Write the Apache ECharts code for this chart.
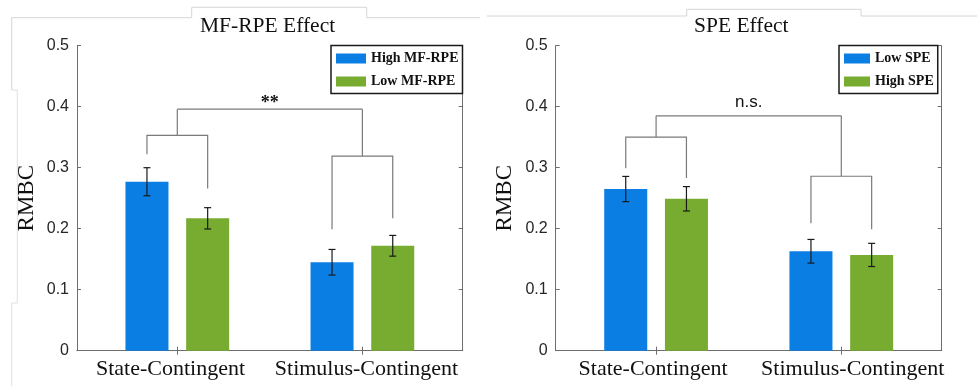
<!DOCTYPE html>
<html>
<head>
<meta charset="utf-8">
<script src="https://cdn.jsdelivr.net/npm/echarts@6/dist/echarts.min.js"></script>
<style>
  html, body { margin: 0; padding: 0; background: #fff; }
  #chart { width: 977px; height: 386px; }
</style>
</head>
<body>
<div id="chart"></div>
<script>
// ---- data ----
const categories = ['State-Contingent', 'Stimulus-Contingent'];
const yTicks = [0, 0.1, 0.2, 0.3, 0.4, 0.5];

// MF-RPE effect panel
const mfHigh = [0.277, 0.145];
const mfHighErr = [0.023, 0.021];
const mfLow = [0.217, 0.172];
const mfLowErr = [0.0175, 0.017];
// significance bracket: leg bottoms (high, low) per category, pair crossbars, top crossbar
const mfLegBottoms = [[0.322, 0.266], [0.199, 0.217]];
const mfPairBars = [0.353, 0.319];
const mfTopBar = 0.396;
const mfMark = '**';

// SPE effect panel
const speLow = [0.265, 0.163];
const speLowErr = [0.0207, 0.0194];
const speHigh = [0.249, 0.157];
const speHighErr = [0.020, 0.019];
const speLegBottoms = [[0.299, 0.283], [0.209, 0.199]];
const spePairBars = [0.350, 0.286];
const speTopBar = 0.385;
const speMark = 'n.s.';

// ---- styling / layout ----
const BLUE = '#0a7ee3';
const GREEN = '#77ac30';
const AXIS = '#6e6e6e';
const SERIF = '"Liberation Serif", "Times New Roman", serif';
const SANS = '"Liberation Sans", Arial, sans-serif';
const BAR_W = 43;
const BAR_GAP = 17.7;
const OFFSET = (BAR_W + BAR_GAP) / 2;
const X_MIN = 0.458, X_MAX = 2.542;

const grids = [
  { left: 77, top: 45.7, width: 385.7, height: 305 },
  { left: 555.7, top: 45.7, width: 386, height: 305 }
];

function catLabel(v) { return v < 1.5 ? categories[0] : categories[1]; }

function xAxes(gridIndex, labelPos) {
  return [
    {
      type: 'value', gridIndex, position: 'bottom', min: X_MIN, max: X_MAX,
      splitLine: { show: false },
      axisLine: { show: true, lineStyle: { color: AXIS, width: 1 } },
      axisTick: { show: true, inside: true, length: 4, customValues: [1, 2], lineStyle: { color: AXIS } },
      axisLabel: {
        show: true, customValues: labelPos, margin: 8,
        formatter: catLabel,
        fontFamily: SERIF, fontSize: 22, color: '#111'
      }
    },
    {
      type: 'value', gridIndex, position: 'top', min: X_MIN, max: X_MAX,
      splitLine: { show: false },
      axisLine: { show: true, lineStyle: { color: AXIS, width: 1 } },
      axisTick: { show: true, inside: true, length: 4, customValues: [1, 2], lineStyle: { color: AXIS } },
      axisLabel: { show: false }
    }
  ];
}

function yAxes(gridIndex) {
  return [
    {
      type: 'value', gridIndex, position: 'left', min: 0, max: 0.5, interval: 0.1,
      name: 'RMBC', nameLocation: 'middle', nameGap: 39,
      nameTextStyle: { fontFamily: SERIF, fontSize: 23, color: '#111' },
      splitLine: { show: false },
      axisLine: { show: true, lineStyle: { color: AXIS, width: 1 } },
      axisTick: { show: true, inside: true, length: 4, customValues: yTicks, lineStyle: { color: AXIS } },
      axisLabel: { show: true, margin: 8, fontFamily: SANS, fontSize: 16, color: '#262626' }
    },
    {
      type: 'value', gridIndex, position: 'right', min: 0, max: 0.5, interval: 0.1,
      splitLine: { show: false },
      axisLine: { show: true, lineStyle: { color: AXIS, width: 1 } },
      axisTick: { show: true, inside: true, length: 4, customValues: yTicks, lineStyle: { color: AXIS } },
      axisLabel: { show: false }
    }
  ];
}

function barSeries(gridIndex, name, values, color) {
  return {
    type: 'bar', name, xAxisIndex: gridIndex * 2, yAxisIndex: gridIndex * 2,
    barWidth: BAR_W, barGap: (BAR_GAP / BAR_W * 100) + '%',
    itemStyle: { color },
    emphasis: { disabled: true },
    data: values.map((v, i) => [i + 1, v]),
    z: 2
  };
}

function errorSeries(gridIndex, means, errs, dir) {
  return {
    type: 'custom', xAxisIndex: gridIndex * 2, yAxisIndex: gridIndex * 2, silent: true, z: 5,
    data: means.map((m, i) => [i + 1, m, errs[i]]),
    renderItem(params, api) {
      const x = api.value(0), m = api.value(1), e = api.value(2);
      const top = api.coord([x, m + e]);
      const bot = api.coord([x, m - e]);
      const cx = top[0] + dir * OFFSET;
      const cap = 3.5;
      const st = { stroke: '#1a1a1a', lineWidth: 1.2 };
      return {
        type: 'group',
        children: [
          { type: 'line', shape: { x1: cx, y1: top[1], x2: cx, y2: bot[1] }, style: st },
          { type: 'line', shape: { x1: cx - cap, y1: top[1], x2: cx + cap, y2: top[1] }, style: st },
          { type: 'line', shape: { x1: cx - cap, y1: bot[1], x2: cx + cap, y2: bot[1] }, style: st }
        ]
      };
    }
  };
}

function bracketSeries(gridIndex, legs, pairBars, topBar, mark, markStyle, markLift) {
  return {
    type: 'custom', xAxisIndex: gridIndex * 2, yAxisIndex: gridIndex * 2, silent: true, z: 4,
    data: [[1.5, topBar]],
    renderItem(params, api) {
      const st = { stroke: '#7a7a7a', lineWidth: 1.2, fill: null };
      const children = [];
      const yTop = api.coord([1, topBar])[1];
      const mids = [];
      legs.forEach((pair, i) => {
        const cx = api.coord([i + 1, 0])[0];
        const xb = cx - OFFSET, xg = cx + OFFSET;
        const yb = api.coord([i + 1, pair[0]])[1];
        const yg = api.coord([i + 1, pair[1]])[1];
        const yBar = api.coord([i + 1, pairBars[i]])[1];
        children.push({ type: 'polyline', shape: { points: [[xb, yb], [xb, yBar], [xg, yBar], [xg, yg]] }, style: st });
        const mid = (xb + xg) / 2;
        mids.push(mid);
        children.push({ type: 'line', shape: { x1: mid, y1: yBar, x2: mid, y2: yTop }, style: st });
      });
      children.push({ type: 'line', shape: { x1: mids[0], y1: yTop, x2: mids[1], y2: yTop }, style: st });
      children.push({
        type: 'text',
        style: Object.assign({
          text: mark, x: (mids[0] + mids[1]) / 2, y: yTop - markLift,
          align: 'center', verticalAlign: 'middle', fill: '#111'
        }, markStyle)
      });
      return { type: 'group', children };
    }
  };
}

function legendFor(names, left, itemWidth) {
  return {
    data: names, orient: 'vertical', left, top: 45.5,
    itemWidth, itemHeight: 10, itemGap: 9, icon: 'rect',
    padding: [6, 4, 5, 5],
    borderColor: '#1a1a1a', borderWidth: 1.5, backgroundColor: '#fff',
    selectedMode: false,
    textStyle: { fontFamily: SERIF, fontWeight: 'bold', fontSize: 14, color: '#111' }
  };
}

const option = {
  animation: false,
  backgroundColor: '#fff',
  title: [
    { text: 'MF-RPE Effect', left: 200, top: 15, padding: 0,
      textStyle: { fontFamily: SERIF, fontWeight: 'normal', fontSize: 21.5, color: '#111' } },
    { text: 'SPE Effect', left: 694, top: 15, padding: 0,
      textStyle: { fontFamily: SERIF, fontWeight: 'normal', fontSize: 21.5, color: '#111' } }
  ],
  legend: [
    legendFor(['High MF-RPE', 'Low MF-RPE'], 331, 30),
    legendFor(['Low SPE', 'High SPE'], 839, 26)
  ],
  grid: grids,
  xAxis: [...xAxes(0, [0.963, 2.022]), ...xAxes(1, [0.984, 2.062])],
  yAxis: [...yAxes(0), ...yAxes(1)],
  series: [
    barSeries(0, 'High MF-RPE', mfHigh, BLUE),
    barSeries(0, 'Low MF-RPE', mfLow, GREEN),
    errorSeries(0, mfHigh, mfHighErr, -1),
    errorSeries(0, mfLow, mfLowErr, 1),
    bracketSeries(0, mfLegBottoms, mfPairBars, mfTopBar, mfMark,
      { fontFamily: SERIF, fontWeight: 'bold', fontSize: 18 }, 6),
    barSeries(1, 'Low SPE', speLow, BLUE),
    barSeries(1, 'High SPE', speHigh, GREEN),
    errorSeries(1, speLow, speLowErr, -1),
    errorSeries(1, speHigh, speHighErr, 1),
    bracketSeries(1, speLegBottoms, spePairBars, speTopBar, speMark,
      { fontFamily: SANS, fontSize: 17 }, 14)
  ],
  graphic: [
    // faint window frame edges behind the panels
    { type: 'polyline', silent: true, z: -10,
      shape: { points: [[11.7, 90], [11.7, 17.7], [191.7, 17.7], [191.7, 7.3], [366.7, 7.3], [366.7, 17.7], [480, 17.7]] },
      style: { stroke: '#d6d6d6', lineWidth: 1, fill: null } },
    { type: 'polyline', silent: true, z: -10,
      shape: { points: [[11.7, 90], [17.3, 90], [17.3, 303], [11.7, 303], [11.7, 386]] },
      style: { stroke: '#e0e0e0', lineWidth: 1, fill: null } },
    { type: 'polyline', silent: true, z: -10,
      shape: { points: [[487, 16], [686.7, 16], [686.7, 9.3], [861, 9.3], [861, 16], [977, 16]] },
      style: { stroke: '#d6d6d6', lineWidth: 1, fill: null } }
  ]
};

const chart = echarts.init(document.getElementById('chart'), null, { renderer: 'canvas' });
chart.setOption(option);
</script>
</body>
</html>
